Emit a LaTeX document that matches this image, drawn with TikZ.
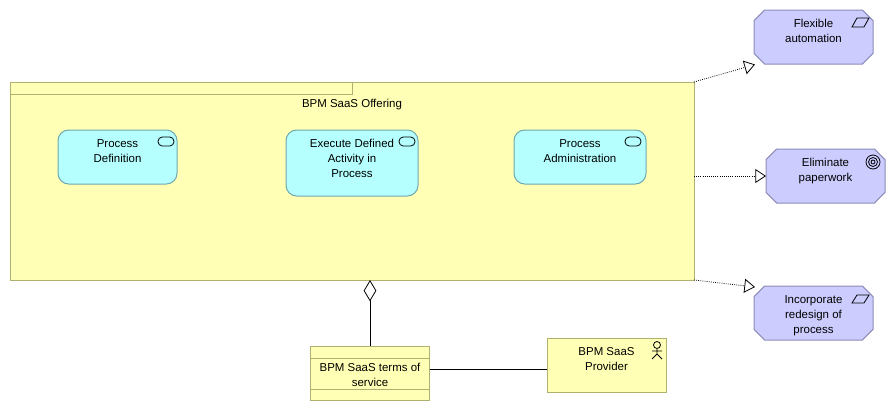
\documentclass[tikz,border=0pt]{standalone}
\usepackage{fontspec}
\setmainfont{Liberation Sans}
\usetikzlibrary{shapes.misc,arrows.meta}
\definecolor{olivefill}{HTML}{FFFFB5}
\definecolor{oliveline}{HTML}{B0B070}
\definecolor{cyanfill}{HTML}{B5FFFF}
\definecolor{cyanline}{HTML}{6FA8B0}
\definecolor{lavfill}{HTML}{CCCCFF}
\definecolor{lavline}{HTML}{8C8CB8}
\newcommand{\toptext}[4]{\parbox[c][#2pt][t]{#1pt}{\centering\vspace*{#3pt}\fontsize{8.6}{11.25}\selectfont #4\par}}
\tikzset{
  base/.style={inner sep=0pt,outer sep=0pt,line width=0.75pt},
  groupbox/.style={base,rectangle,draw=oliveline,fill=olivefill},
  svcbox/.style={base,rectangle,rounded corners=8pt,draw=cyanline,fill=cyanfill},
  goalbox/.style={base,chamfered rectangle,chamfered rectangle xsep=4pt,chamfered rectangle ysep=4pt,draw=lavline,fill=lavfill},
  realize/.style={line width=0.6pt,densely dotted,-{Triangle[open,fill=white,length=8pt,width=10.5pt,line width=0.6pt]}},
  aggr/.style={line width=0.75pt,{Diamond[open,fill=white,length=16pt,width=9.5pt,line width=0.6pt]}-},
  assoc/.style={line width=0.75pt},
  iconline/.style={line width=0.6pt,draw=black},
}
\begin{document}
\begin{tikzpicture}[x=0.75pt,y=-0.75pt]
\useasboundingbox (0,0) rectangle (896,411);
% grouping
\node[groupbox] (main) at (352,181) {\toptext{513}{148.5}{12.85}{BPM SaaS Offering}};
\node[base,rectangle,draw=oliveline,fill=olivefill,minimum width=256.5pt,minimum height=9pt] (tab) at (181,88) {};
% services
\node[svcbox] (s1) at (117.5,157) {\toptext{89.25}{40.5}{7.25}{Process\\Definition}};
\node[svcbox] (s2) at (352,163) {\toptext{99}{49.5}{7.25}{Execute Defined\\Activity in\\Process}};
\node[svcbox] (s3) at (580,157) {\toptext{99}{40.5}{7.25}{Process\\Administration}};
% goals
\node[goalbox] (g1) at (813.5,37) {\toptext{81.25}{32.5}{3.2}{Flexible\\automation}};
\node[goalbox] (g2) at (825.5,176) {\toptext{81.25}{32.5}{3.2}{Eliminate\\paperwork}};
\node[goalbox] (g3) at (813.5,313) {\toptext{81.25}{32.5}{3.2}{Incorporate\\redesign of\\process}};
% contract and actor
\node[groupbox] (contract) at (370,373) {\toptext{89.25}{40.5}{13.25}{BPM SaaS terms of\\service}};
\node[groupbox] (provider) at (606.5,365) {\toptext{89.25}{40.5}{7.25}{BPM SaaS\\Provider}};
\draw[oliveline,line width=0.75pt] ([yshift=-9pt]contract.north west) -- ([yshift=-9pt]contract.north east);
\draw[oliveline,line width=0.75pt] ([yshift=8.25pt]contract.south west) -- ([yshift=8.25pt]contract.south east);
% connectors
\coordinate (assocy) at (488,369);
\coordinate (g1tip) at (755,64.5);
\coordinate (g3tip) at (755,287);
\draw[realize] (main.north east) -- (g1tip);
\draw[realize] (g2.west -| main.east) -- (g2.west);
\draw[realize] (main.south east) -- (g3tip);
\draw[aggr] (contract.north |- main.south) -- (contract.north);
\draw[assoc] (contract.east |- assocy) -- (provider.west |- assocy);
% service icons
\draw[iconline,rounded corners=3.2pt] (158,137) rectangle (174,146);
\draw[iconline,rounded corners=3.2pt] (399,137) rectangle (415,146);
\draw[iconline,rounded corners=3.2pt] (625,137) rectangle (641,146);
% goal icons
\draw[iconline] (852,27) -- (857,18) -- (869,18) -- (864,27) -- cycle;
\draw[iconline] (852,303) -- (857,295) -- (869,295) -- (864,303) -- cycle;
\foreach \r in {7,4.5,2}{\draw[iconline] (873,162) circle[radius=\r];}
% actor
\draw[iconline] (657,345) circle[radius=3.5];
\draw[iconline] (657,348.5) -- (657,354) (652,351) -- (662,351) (652,359) -- (657,354) -- (662,359);
\end{tikzpicture}
\end{document}
